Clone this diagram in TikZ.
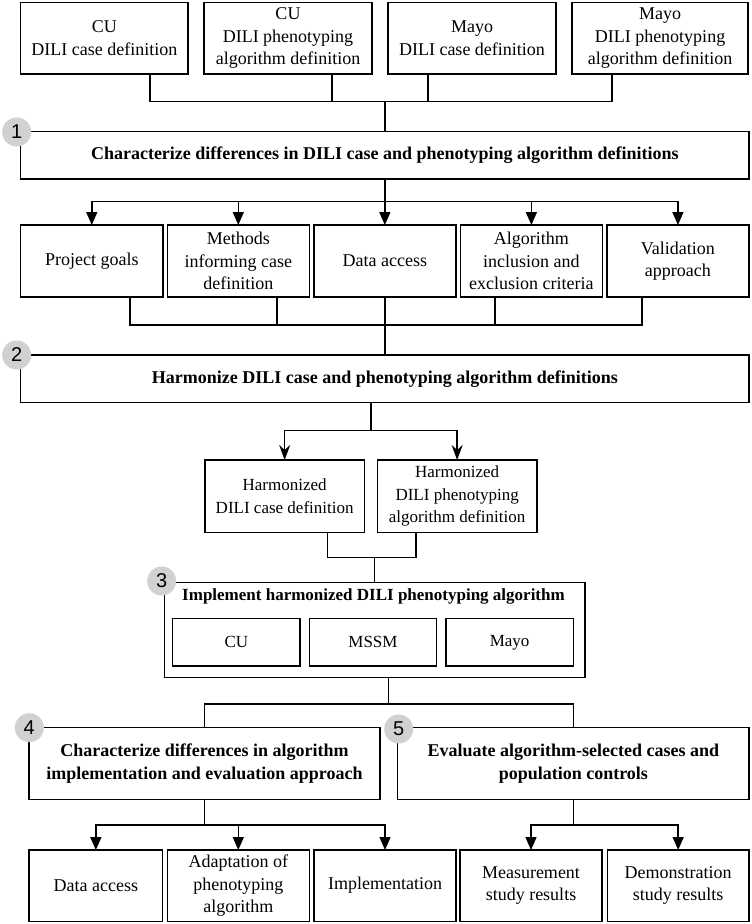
\documentclass[tikz,border=0pt]{standalone}
\usepackage{fontspec}
\setmainfont{Liberation Serif}
\newfontfamily\numfont{Liberation Sans}
\usetikzlibrary{arrows.meta}
\begin{document}
\begin{tikzpicture}[x=1pt,y=-1pt,
  line width=1.5pt,
  box/.style={draw, inner sep=0pt, outer sep=0pt, align=center,
    font=\fontsize{18}{22.5}\selectfont},
  smallbox/.style={box, font=\fontsize{17}{22.3}\selectfont},
  title/.style={box, font=\fontsize{18}{22.7}\selectfont\bfseries},
  num/.style={circle, fill=black!18, draw=none, minimum size=29pt, inner sep=0pt,
    font=\fontsize{20}{20}\selectfont\numfont},
  arr/.style={-{Triangle[length=13pt,width=11pt]}},
  sarr/.style={-{Stealth[length=15pt,width=11pt,inset=5pt]}}
]
\useasboundingbox (0,0) rectangle (752,924);

% top row
\node[box, minimum width=167.3pt, minimum height=71.3pt] (t1) at (104.35,38.35) {CU\\DILI case definition};
\node[box, minimum width=168pt, minimum height=71.3pt] (t2) at (288,38.35) {CU\\DILI phenotyping\\algorithm definition};
\node[box, minimum width=168pt, minimum height=71.3pt] (t3) at (472,38.35) {Mayo\\DILI case definition};
\node[box, minimum width=176pt, minimum height=71.3pt] (t4) at (660,38.35) {Mayo\\DILI phenotyping\\algorithm definition};

% step 1
\node[title, minimum width=728.3pt, minimum height=47.3pt] (s1) at (384.85,155.35) {Characterize differences in DILI case and phenotyping algorithm definitions};

\coordinate (j1) at (385,101.5);
\draw ([xshift=45.65pt]t1.south) |- (j1);
\draw ([xshift=44pt]t2.south) |- (j1);
\draw ([xshift=-44pt]t3.south) |- (j1);
\draw ([xshift=-48pt]t4.south) |- (j1);
\draw (j1) -- (s1.north -| j1);

% row 2
\node[box, minimum width=142.1pt, minimum height=72pt] (a) at (91.77,261) {Project goals};
\node[box, minimum width=142.1pt, minimum height=72pt] (b) at (238.31,261) {Methods\\informing case\\definition};
\node[box, minimum width=142.1pt, minimum height=72pt] (c) at (384.85,261) {Data access};
\node[box, minimum width=142.1pt, minimum height=72pt] (d) at (531.39,261) {Algorithm\\inclusion and\\exclusion criteria};
\node[box, minimum width=142.1pt, minimum height=72pt] (e) at (677.93,261) {Validation\\approach};

\coordinate (k1) at (384.85,201.7);
\draw (s1.south) -- (k1);
\draw[arr] (k1) -| (a.north);
\draw[arr] (k1) -| (b.north);
\draw[arr] (k1) -- (c.north);
\draw[arr] (k1) -| (d.north);
\draw[arr] (k1) -| (e.north);

% step 2
\node[title, minimum width=728.3pt, minimum height=47.7pt] (s2) at (384.85,378.85) {Harmonize DILI case and phenotyping algorithm definitions};

\coordinate (j2) at (384.85,325);
\draw ([xshift=38.2pt]a.south) |- (j2);
\draw ([xshift=38.7pt]b.south) |- (j2);
\draw (c.south) -- (j2);
\draw ([xshift=-36.4pt]d.south) |- (j2);
\draw ([xshift=-36pt]e.south) |- (j2);
\draw (j2) -- (s2.north);

% harmonized
\node[smallbox, minimum width=159.3pt, minimum height=72.3pt] (h1) at (284.65,496.15) {Harmonized\\DILI case definition};
\node[smallbox, minimum width=159.7pt, minimum height=72.3pt] (h2) at (457.15,496.15) {Harmonized\\DILI phenotyping\\algorithm definition};

\coordinate (k2) at (370.9,430.7);
\draw (s2.south -| k2) -- (k2);
\draw[sarr] (k2) -| (h1.north);
\draw[sarr] (k2) -| (h2.north);

% step 3
\node[draw, inner sep=0pt, minimum width=420.7pt, minimum height=95.4pt] (s3) at (374.65,630) {};
\node[font=\fontsize{17}{21}\selectfont\bfseries, inner sep=0pt] (s3t) at (373.5,596.5) {Implement harmonized DILI phenotyping algorithm};
\node[smallbox, minimum width=127.3pt, minimum height=47.3pt] (i1) at (236.35,642.35) {CU};
\node[smallbox, minimum width=127.4pt, minimum height=47.3pt] (i2) at (373,642.35) {MSSM};
\node[smallbox, minimum width=127.3pt, minimum height=47.3pt] (i3) at (509.65,642.35) {Mayo};

\coordinate (j3) at (374.3,557.3);
\draw ([xshift=43pt]h1.south) |- (j3);
\draw ([xshift=-41.15pt]h2.south) |- (j3);
\draw (j3) -- (s3.north -| j3);

% step 4 and 5
\node[title, minimum width=351pt, minimum height=71.6pt] (s4) at (204.5,763.5) {Characterize differences in algorithm\\implementation and evaluation approach};
\node[title, minimum width=351.3pt, minimum height=71.6pt] (s5) at (573.35,763.5) {Evaluate algorithm-selected cases and\\population controls};

\coordinate (k3) at (388.7,704);
\draw (s3.south -| k3) -- (k3);
\draw (k3) -| (s4.north);
\draw (k3) -| (s5.north);

% bottom row
\node[box, minimum width=133.7pt, minimum height=71.3pt] (b1) at (95.85,885.65) {Data access};
\node[box, minimum width=142pt, minimum height=71.3pt] (b2) at (238.3,885.65) {Adaptation of\\phenotyping\\algorithm};
\node[box, minimum width=142pt, minimum height=71.3pt] (b3) at (385,885.65) {Implementation};
\node[box, minimum width=142pt, minimum height=71.3pt] (b4) at (531,885.65) {Measurement\\study results};
\node[box, minimum width=141.7pt, minimum height=71.3pt] (b5) at (678.15,885.65) {Demonstration\\study results};

\coordinate (k4) at (204.5,825);
\draw (s4.south) -- (k4);
\draw[arr] (k4) -| (b1.north);
\draw[arr] (k4) -| (b2.north);
\draw[arr] (k4) -| (b3.north);
\coordinate (k5) at (573.35,825);
\draw (s5.south) -- (k5);
\draw[arr] (k5) -| (b4.north);
\draw[arr] (k5) -| (b5.north);

% numbered circles
\node[num] (n1) at (16.7,132) {1};
\node[num] (n2) at (16.7,355) {2};
\node[num] (n3) at (161.7,581) {3};
\node[num] (n4) at (29.3,727.7) {4};
\node[num] (n5) at (398.7,729) {5};
\end{tikzpicture}
\end{document}
